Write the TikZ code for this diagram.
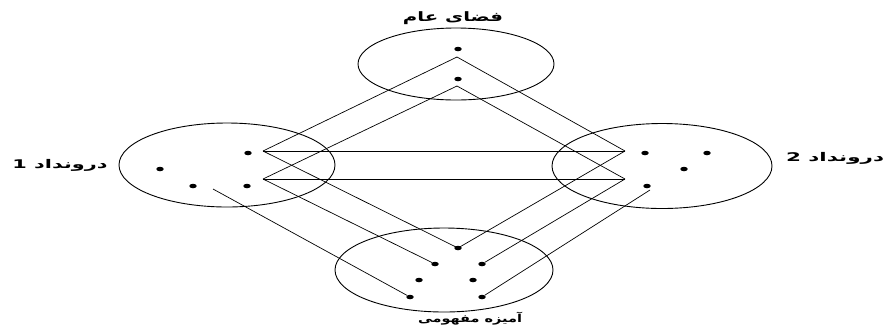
\documentclass[tikz,border=0pt]{standalone}
\usepackage{fontspec}
\usepackage{graphicx}
\usetikzlibrary{shapes.geometric}
\TeXXeTstate=1
\newfontfamily\arabicfont[Script=Arabic]{DejaVu Sans}
\tikzset{
  setell/.style={draw, ellipse, line width=0.9pt, inner sep=0pt},
  dotpt/.style={fill=black, ellipse, inner sep=0pt, minimum width=7.5pt, minimum height=4.5pt},
  link/.style={line width=0.7pt},
  lbl/.style={inner sep=0pt, font=\arabicfont\bfseries}
}
\begin{document}
\begin{tikzpicture}[x=1pt,y=-1pt]
\useasboundingbox (0,0) rectangle (888,325);
% sets
\node[setell, minimum width=196pt, minimum height=72pt] (top) at (456,64) {};
\node[setell, minimum width=216pt, minimum height=84pt] (left) at (227,165) {};
\node[setell, minimum width=220pt, minimum height=85pt] (right) at (662,166) {};
\node[setell, minimum width=218pt, minimum height=84pt] (bot) at (444,270) {};
% labels
\node[lbl] (ltop) at (453,18) {\resizebox*{100pt}{13pt}{\beginR فضای عام\endR}};
\node[lbl] (lleft) at (60,165) {\resizebox*{95pt}{12pt}{\beginR درونداد 1\endR}};
\node[lbl] (lright) at (835,158) {\resizebox*{98pt}{12pt}{\beginR درونداد 2\endR}};
\node[lbl] (lbot) at (470,319) {\resizebox*{104pt}{13pt}{\beginR آمیزه مفهومی\endR}};
% dots
\node[dotpt] (t1) at (458,49) {};
\node[dotpt] (t2) at (458,79) {};
\node[dotpt] (a1) at (248,153) {};
\node[dotpt] (a2) at (160,169) {};
\node[dotpt] (a3) at (193,186) {};
\node[dotpt] (a4) at (247,186) {};
\node[dotpt] (c1) at (645,153) {};
\node[dotpt] (c2) at (707,153) {};
\node[dotpt] (c3) at (684,169) {};
\node[dotpt] (c4) at (647,186) {};
\node[dotpt] (b1) at (458,248) {};
\node[dotpt] (b2) at (435,264) {};
\node[dotpt] (b3) at (482,264) {};
\node[dotpt] (b4) at (419,280) {};
\node[dotpt] (b5) at (473,280) {};
\node[dotpt] (b6) at (410,297) {};
\node[dotpt] (b7) at (482,297) {};
% vertices
\coordinate (T1) at (457,57);
\coordinate (T2) at (457,86);
\coordinate (L1) at (263,151);
\coordinate (L2) at (263,179);
\coordinate (R1) at (625,151);
\coordinate (R2) at (625,179);
\coordinate (L3) at (213,189);
\coordinate (R3) at (650,190);
% connectors
\draw[link] (L1) -- (T1) -- (R1);
\draw[link] (L1) -- (R1);
\draw[link] (L1) -- (b1.center) -- (R1);
\draw[link] (L2) -- (T2) -- (R2);
\draw[link] (L2) -- (R2);
\draw[link] (L2) -- (b2);
\draw[link] (R2) -- (b3);
\draw[link] (L3) -- (b6);
\draw[link] (R3) -- (b7);
\end{tikzpicture}
\end{document}
